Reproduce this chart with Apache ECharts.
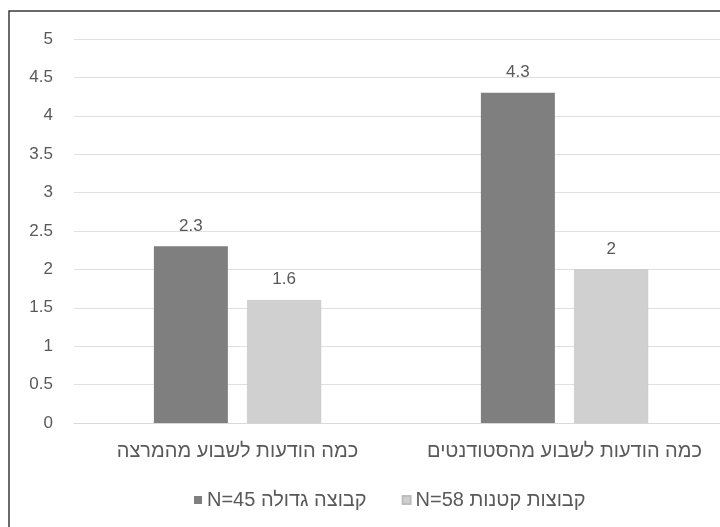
<!DOCTYPE html>
<html>
<head>
<meta charset="utf-8">
<script src="https://cdn.jsdelivr.net/npm/echarts@6/dist/echarts.min.js"></script>
<style>
html,body{margin:0;padding:0;background:#fff;overflow:hidden;width:720px;height:527px;}
#chart{width:730px;height:527px;}
</style>
</head>
<body>
<div id="chart"></div>
<script>
const categories = ['כמה הודעות לשבוע מהמרצה', 'כמה הודעות לשבוע מהסטודנטים'];
const seriesNames = ['N=45 קבוצה גדולה', 'N=58 קבוצות קטנות'];
const largeGroup = [2.3, 4.3];
const smallGroups = [1.6, 2];
const yTicks = {min: 0, max: 5, interval: 0.5};

const font = 'Liberation Sans, Arial, sans-serif';
const chart = echarts.init(document.getElementById('chart'));
chart.setOption({
  animation: false,
  backgroundColor: '#ffffff',
  graphic: [{
    type: 'rect',
    shape: {x: 9, y: 11, width: 900, height: 700},
    style: {fill: 'none', stroke: '#3a3a3a', lineWidth: 1.5},
    silent: true
  }],
  grid: {left: 74, right: 2, top: 39, bottom: 104, containLabel: false},
  legend: {
    data: seriesNames,
    left: 189,
    top: 485,
    itemWidth: 8,
    itemHeight: 8,
    itemGap: 35,
    icon: 'rect',
    textStyle: {color: '#595959', fontSize: 20, fontFamily: font}
  },
  xAxis: {
    type: 'category',
    data: categories,
    axisTick: {show: false},
    axisLine: {lineStyle: {color: '#d9d9d9', width: 1}},
    axisLabel: {color: '#595959', fontSize: 20, fontFamily: font, margin: 18, interval: 0}
  },
  yAxis: {
    type: 'value',
    min: yTicks.min,
    max: yTicks.max,
    interval: yTicks.interval,
    axisLine: {show: false},
    axisTick: {show: false},
    splitLine: {lineStyle: {color: '#e0e0e0', width: 1}},
    axisLabel: {color: '#595959', fontSize: 17, fontFamily: font, margin: 21}
  },
  series: [
    {
      name: seriesNames[0],
      type: 'bar',
      data: largeGroup,
      barWidth: 74,
      barGap: '26%',
      itemStyle: {color: '#7f7f7f'},
      label: {show: true, position: 'top', distance: 12, color: '#595959', fontSize: 17, fontFamily: font}
    },
    {
      name: seriesNames[1],
      type: 'bar',
      data: smallGroups,
      barWidth: 74,
      barGap: '26%',
      itemStyle: {color: '#d0d0d0', borderColor: '#bdbdbd', borderWidth: 0.5},
      label: {show: true, position: 'top', distance: 12, color: '#595959', fontSize: 17, fontFamily: font}
    }
  ]
});
</script>
</body>
</html>
